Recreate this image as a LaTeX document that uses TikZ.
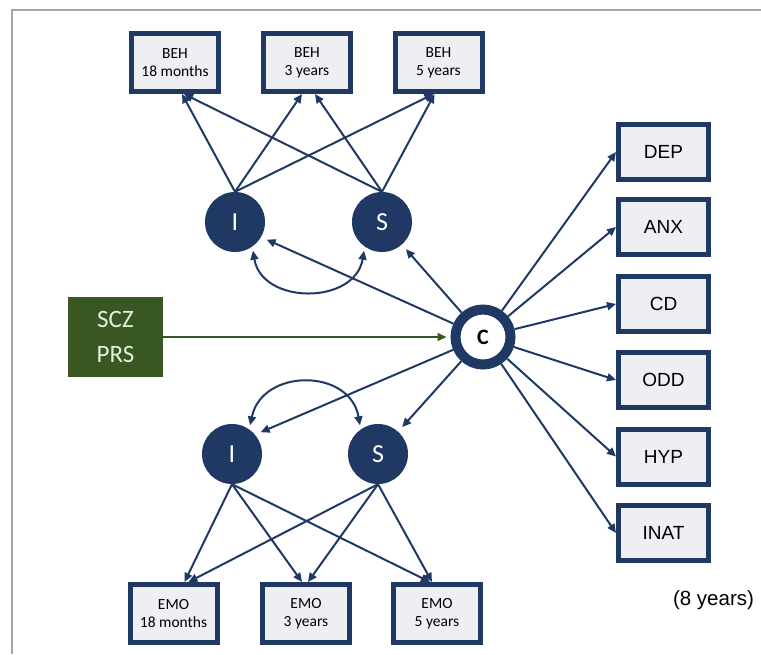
\documentclass[tikz,border=0pt]{standalone}
\usepackage{fontspec}
\setmainfont{Carlito}
\newfontfamily\arialfont{Liberation Sans}
\usetikzlibrary{arrows.meta,positioning}
\definecolor{navy}{RGB}{31,56,100}
\definecolor{boxgray}{RGB}{237,239,243}
\definecolor{prsgreen}{RGB}{56,87,35}
\definecolor{prstext}{RGB}{226,240,217}
\definecolor{framegray}{RGB}{165,165,165}
\tikzset{
>={Triangle[length=9pt,width=8pt]},
  wave/.style={
    rectangle,
    draw=navy, line width=5pt,
    fill=boxgray,
    minimum width=87pt,
    minimum height=58pt,
    inner sep=0pt,
    align=center,
    font=\fontsize{15.5}{18}\selectfont},
  outcome/.style={
    rectangle,
    draw=navy, line width=5pt,
    fill=boxgray,
    minimum width=90pt,
    minimum height=55pt,
    font=\arialfont\fontsize{19}{22}\selectfont},
  growth/.style={
    circle,
    fill=navy,
    text=white,
    minimum size=60pt,
    inner sep=0pt,
    font=\fontsize{26}{30}\selectfont},
  factor/.style={
    circle,
    draw=navy, line width=10pt,
    fill=white,
    minimum size=55pt,
    inner sep=0pt,
    font=\bfseries\fontsize{22}{26}\selectfont},
  link/.style={draw=navy, line width=2pt, ->},
  gap/.style={shorten >=6pt},
}

\begin{document}
\begin{tikzpicture}[
    x=1pt, y=-1pt,
    prs/.style={rectangle, fill=prsgreen, text=prstext,
      minimum width=95pt, minimum height=80pt, align=center,
      font=\fontsize{25}{35}\selectfont},
    note/.style={font=\arialfont\fontsize{20.5}{24}\selectfont}
    ]
    \useasboundingbox (0,0) rectangle (761,654);

    %frame
    \draw[framegray, line width=2pt] (12,654) -- (12,10) -- (761,10);

    %behaviour waves
    \node[wave] (beh1) at (175,62.5) {BEH\\18 months};
    \node[wave] (beh2) at (307,62.5) {BEH\\3 years};
    \node[wave] (beh3) at (438.5,62.5) {BEH\\5 years};

    %emotion waves
    \node[wave] (emo1) at (173.5,613.5) {EMO\\18 months};
    \node[wave] (emo2) at (306,613.5) {EMO\\3 years};
    \node[wave] (emo3) at (437,613.5) {EMO\\5 years};

    %growth factors
    \node[growth] (I1) at (235,222) {I};
    \node[growth] (S1) at (382,222) {S};
    \node[growth] (I2) at (232,454) {I};
    \node[growth] (S2) at (378,454) {S};

    %common factor and score
    \node[factor] (C) at (483,337) {C};
    \node[prs] (scz) at (115.5,337) {SCZ\\PRS};

    %outcomes at 8 years
    \node[outcome] (dep) at (663.5,152) {DEP};
    \node[outcome] (anx) at (663.5,227) {ANX};
    \node[outcome] (cd) at (663.5,304) {CD};
    \node[outcome] (odd) at (663.5,380) {ODD};
    \node[outcome] (hyp) at (663.5,456.5) {HYP};
    \node[outcome] (inat) at (663.5,533) {INAT};
    \node[note] (age) at (713.5,600) {(8 years)};

    %loadings, top
    \draw[link] (I1.north) -- ([xshift=7pt]beh1.south);
    \draw[link] (I1.north) -- ([xshift=-5pt]beh2.south);
    \draw[link] (I1.north) -- ([xshift=-5pt]beh3.south);
    \draw[link] (S1.north) -- ([xshift=9pt]beh1.south);
    \draw[link] (S1.north) -- ([xshift=8pt]beh2.south);
    \draw[link] (S1.north) -- ([xshift=-4pt]beh3.south);

    %loadings, bottom
    \draw[link] (I2.south) -- ([xshift=11pt]emo1.north);
    \draw[link] (I2.south) -- ([xshift=-4pt]emo2.north);
    \draw[link] (I2.south) -- ([xshift=-7pt]emo3.north);
    \draw[link] (S2.south) -- ([xshift=15pt]emo1.north);
    \draw[link] (S2.south) -- ([xshift=2pt]emo2.north);
    \draw[link] (S2.south) -- ([xshift=-5pt]emo3.north);

    %covariances
    \draw[link, <->, shorten <=4pt, shorten >=4pt] (I1.-55) .. controls (262,305) and (355,305) .. (S1.-125);
    \draw[link, <->, shorten <=4pt, shorten >=4pt] (I2.55) .. controls (262,368) and (350,368) .. (S2.125);

    %common factor to growth factors
    \draw[link, gap] (C) -- (I1.-30);
    \draw[link, gap] (C) -- (S1);
    \draw[link, gap] (C) -- (I2.40);
    \draw[link, gap] (C) -- (S2);

    %common factor to outcomes
    \foreach \o in {dep,anx,cd,odd,hyp,inat}
        \draw[link] (C) -- (\o.west);

    %score
    \draw[prsgreen, line width=2pt, ->, shorten >=4pt] (scz) -- (C);

\end{tikzpicture}
\end{document}
